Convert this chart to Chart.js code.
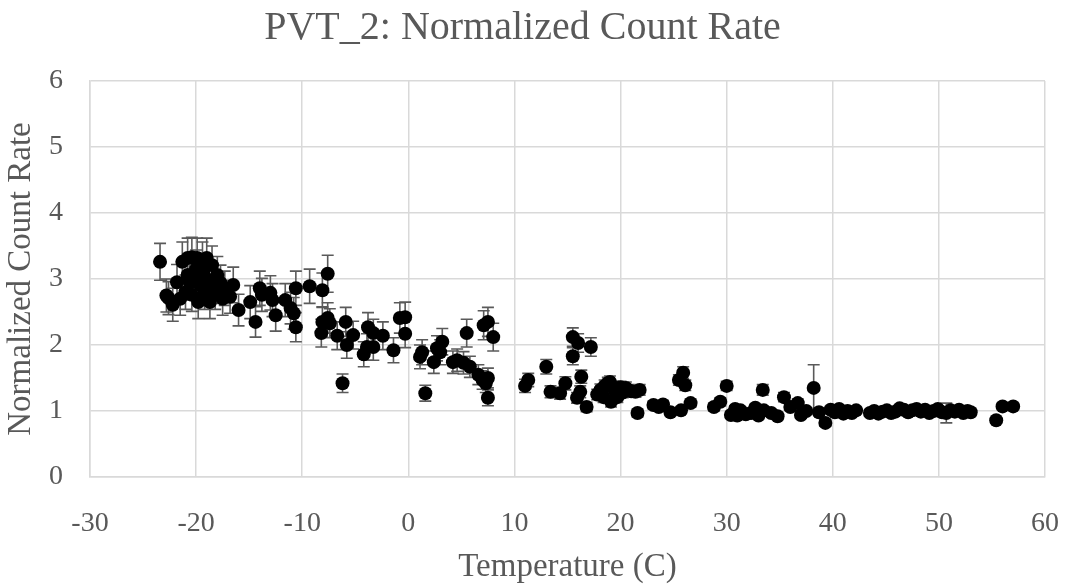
<!DOCTYPE html>
<html>
<head>
<meta charset="utf-8">
<script src="https://cdn.jsdelivr.net/npm/chart.js@4/dist/chart.umd.min.js"></script>
<style>
  html, body { margin: 0; padding: 0; background: #ffffff; }
  #wrap { width: 1069px; height: 587px; position: relative; }
</style>
</head>
<body>
<div id="wrap"><canvas id="c" width="1069" height="587"></canvas></div>
<script>
const chartTitle = "PVT_2: Normalized Count Rate";
const xTitle = "Temperature (C)";
const yTitle = "Normalized Count Rate";
const xTicks = [-30, -20, -10, 0, 10, 20, 30, 40, 50, 60];
const yTicks = [0, 1, 2, 3, 4, 5, 6];

const temps = [
  -23.4,-22.8,-22.6,-22.2,-21.8,-21.5,-21.3,-21.0,-20.8,-20.8,-20.6,-20.4,-20.4,-20.1,-20.0,-19.9,-19.8,-19.6,-19.4,-19.3,
  -19.2,-19.0,-19.0,-18.7,-18.5,-18.5,-18.2,-18.0,-17.7,-17.5,-17.3,-16.8,-16.5,-16.0,-14.9,-14.4,-14.0,-13.8,-13.0,-12.8,
  -12.5,-11.6,-11.1,-10.8,-10.6,-10.6,-9.3,-8.1,-7.6,-8.1,-7.6,-7.4,-8.2,-6.7,-5.9,-5.8,-5.2,-6.2,-4.2,-3.8,
  -3.3,-3.9,-3.3,-2.4,-1.4,-0.8,-0.3,-0.3,1.1,1.3,1.6,2.4,2.7,3.2,3.0,4.2,4.6,5.2,5.5,5.8,
  6.6,7.0,7.3,7.5,7.5,7.1,7.5,8.0,11.0,11.3,13.0,13.4,14.3,14.8,15.5,16.0,17.2,15.5,16.3,16.2,
  15.9,16.8,17.8,18.1,18.4,18.5,18.8,19.0,19.1,19.3,19.5,19.7,20.0,20.2,20.5,20.7,21.0,21.4,21.6,21.8,
  23.1,23.6,24.0,24.7,25.5,25.9,26.1,25.7,26.6,28.8,29.4,30.0,30.4,30.8,31.0,31.3,31.8,32.3,32.7,33.0,
  33.4,33.5,34.2,34.8,35.4,36.0,36.7,37.0,37.5,38.2,38.7,39.3,39.8,40.2,40.6,41.0,41.4,41.8,42.2,43.5,
  43.9,44.3,44.7,45.1,45.5,45.9,46.3,46.7,47.1,47.5,47.9,48.3,48.7,49.1,49.5,49.9,50.3,50.7,51.1,51.5,
  51.9,52.3,52.7,53.0,55.4,56.0,57.0
];
const rates = [
  3.26,2.75,2.71,2.61,2.95,2.70,3.26,2.80,3.32,3.06,2.95,3.33,2.76,3.02,3.15,3.32,2.65,2.91,3.26,3.11,
  2.80,3.32,3.00,2.65,3.21,2.90,2.80,3.06,2.94,2.70,2.86,2.73,2.91,2.53,2.65,2.35,2.86,2.76,2.79,2.68,
  2.45,2.68,2.56,2.48,2.86,2.27,2.89,2.83,3.08,2.35,2.41,2.33,2.18,2.14,2.35,2.00,2.15,1.42,1.86,2.27,
  2.18,1.97,1.97,2.14,1.92,2.41,2.42,2.17,1.82,1.89,1.27,1.74,1.95,2.05,1.89,1.74,1.77,1.73,2.18,1.67,
  1.55,1.47,1.42,1.20,1.50,2.30,2.35,2.12,1.38,1.47,1.67,1.29,1.27,1.42,2.12,2.03,1.97,1.83,1.52,1.29,
  1.20,1.06,1.25,1.32,1.21,1.38,1.42,1.44,1.14,1.36,1.30,1.21,1.36,1.28,1.35,1.32,1.30,1.29,0.97,1.32,
  1.09,1.06,1.10,0.98,1.47,1.58,1.39,1.01,1.12,1.06,1.14,1.38,0.94,1.03,0.93,1.01,0.95,0.97,1.05,0.93,
  1.32,1.01,0.97,0.92,1.21,1.06,1.12,0.94,1.00,1.35,0.98,0.82,1.02,0.98,1.03,0.96,1.00,0.97,1.01,0.97,
  1.00,0.96,0.99,1.01,0.97,0.99,1.04,1.02,0.98,1.01,1.03,0.99,1.02,0.97,1.00,1.03,0.98,0.97,1.01,0.99,
  1.02,0.97,1.00,0.98,0.86,1.07,1.07
];
const errors = [
  0.28,0.25,0.25,0.25,0.27,0.25,0.30,0.26,0.30,0.28,0.27,0.30,0.25,0.28,0.29,0.30,0.25,0.27,0.30,0.28,
  0.26,0.30,0.27,0.25,0.29,0.27,0.26,0.28,0.27,0.25,0.26,0.25,0.27,0.24,0.25,0.23,0.26,0.25,0.26,0.25,
  0.24,0.25,0.24,0.24,0.26,0.22,0.26,0.26,0.28,0.23,0.23,0.22,0.21,0.21,0.22,0.20,0.21,0.14,0.19,0.22,
  0.21,0.20,0.20,0.21,0.19,0.23,0.23,0.21,0.18,0.19,0.12,0.17,0.19,0.20,0.19,0.17,0.17,0.17,0.21,0.16,
  0.15,0.14,0.14,0.12,0.15,0.22,0.22,0.21,0.10,0.10,0.11,0.09,0.09,0.10,0.14,0.14,0.14,0.13,0.10,0.09,
  0.08,0.07,0.08,0.09,0.08,0.09,0.09,0.09,0.08,0.09,0.08,0.08,0.09,0.08,0.09,0.08,0.08,0.08,0.06,0.08,
  0.06,0.06,0.06,0.05,0.08,0.09,0.08,0.05,0.06,0.06,0.06,0.07,0.05,0.05,0.05,0.05,0.05,0.05,0.05,0.05,
  0.08,0.05,0.05,0.05,0.07,0.05,0.06,0.05,0.05,0.35,0.05,0.05,0.05,0.05,0.05,0.05,0.05,0.05,0.05,0.05,
  0.05,0.05,0.05,0.05,0.05,0.05,0.05,0.05,0.05,0.05,0.05,0.05,0.05,0.05,0.05,0.05,0.05,0.15,0.05,0.05,
  0.05,0.05,0.05,0.05,0.04,0.05,0.05
];

const points = temps.map((t, i) => ({ x: t, y: rates[i], err: errors[i] }));

const SERIF = "'Liberation Serif', 'Times New Roman', serif";
const GREY = '#595959';
const GRID = '#d9d9d9';

const errorBarPlugin = {
  id: 'errorBars',
  beforeDatasetsDraw(chart) {
    const { ctx, scales: { x, y } } = chart;
    const meta = chart.getDatasetMeta(0);
    ctx.save();
    ctx.strokeStyle = '#5a5a5a';
    ctx.lineWidth = 1.6;
    meta.data.forEach((el, i) => {
      const p = chart.data.datasets[0].data[i];
      const px = x.getPixelForValue(p.x);
      const top = y.getPixelForValue(p.y + p.err);
      const bot = y.getPixelForValue(p.y - p.err);
      const cap = 6;
      ctx.beginPath();
      ctx.moveTo(px, top); ctx.lineTo(px, bot);
      ctx.moveTo(px - cap, top); ctx.lineTo(px + cap, top);
      ctx.moveTo(px - cap, bot); ctx.lineTo(px + cap, bot);
      ctx.stroke();
    });
    ctx.restore();
  }
};

new Chart(document.getElementById('c'), {
  type: 'scatter',
  data: {
    datasets: [{
      label: 'PVT_2',
      data: points,
      pointRadius: 7,
      pointHoverRadius: 7,
      backgroundColor: '#000000',
      borderColor: '#000000',
      borderWidth: 0
    }]
  },
  options: {
    responsive: false,
    animation: false,
    events: [],
    layout: { padding: { left: 0, right: 24, top: 0, bottom: 0 } },
    plugins: {
      legend: { display: false },
      tooltip: { enabled: false },
      title: {
        display: true,
        text: chartTitle,
        color: GREY,
        font: { family: SERIF, size: 40, weight: 'normal' },
        padding: { top: 4, bottom: 29 }
      }
    },
    scales: {
      x: {
        type: 'linear',
        min: xTicks[0],
        max: xTicks[xTicks.length - 1],
        afterBuildTicks(scale) { scale.ticks = xTicks.map(v => ({ value: v })); },
        afterFit(scale) { scale.height = 110; },
        grid: { color: GRID, lineWidth: 1.5, drawTicks: true, tickLength: 28, tickColor: 'rgba(0,0,0,0)' },
        border: { color: GRID, width: 1.5 },
        ticks: {
          color: GREY,
          padding: 2,
          font: { family: SERIF, size: 28 }
        },
        title: {
          display: true,
          text: xTitle,
          color: GREY,
          font: { family: SERIF, size: 33 },
          padding: { top: 0, bottom: 0 }
        }
      },
      y: {
        type: 'linear',
        min: yTicks[0],
        max: yTicks[yTicks.length - 1],
        afterBuildTicks(scale) { scale.ticks = yTicks.map(v => ({ value: v })); },
        afterFit(scale) { scale.width = 90; },
        grid: { color: GRID, lineWidth: 1.5, drawTicks: true, tickLength: 25, tickColor: 'rgba(0,0,0,0)' },
        border: { color: GRID, width: 1.5 },
        ticks: {
          color: GREY,
          padding: 2,
          font: { family: SERIF, size: 28 }
        },
        title: {
          display: true,
          text: yTitle,
          color: GREY,
          font: { family: SERIF, size: 33 },
          padding: { top: 2, bottom: 0 }
        }
      }
    }
  },
  plugins: [errorBarPlugin]
});
</script>
</body>
</html>
